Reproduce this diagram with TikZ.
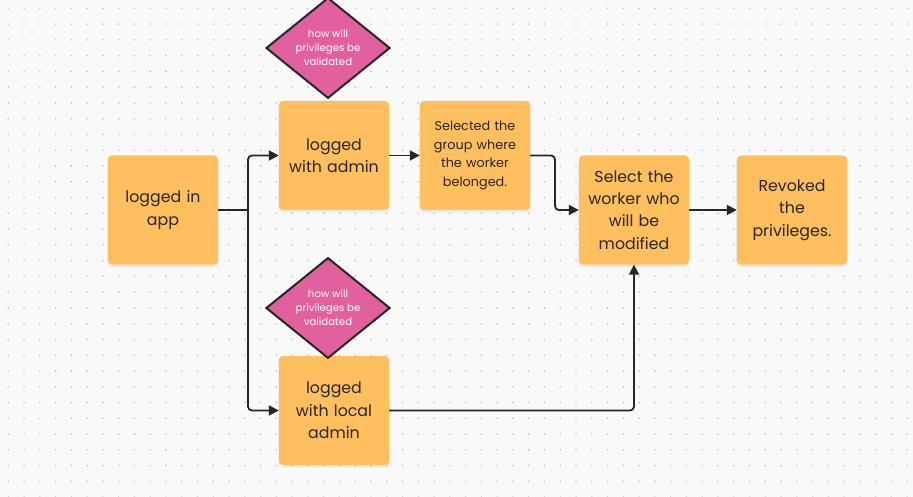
\documentclass[tikz,border=0pt]{standalone}
\usepackage{fontspec}
\setmainfont{Poppins}
\usetikzlibrary{shapes.geometric,arrows.meta}
\definecolor{bg}{HTML}{F9F9F9}
\definecolor{dotc}{HTML}{BDBDBD}
\definecolor{boxc}{HTML}{FFBF5F}
\definecolor{pinkc}{HTML}{E3609F}
\definecolor{linec}{HTML}{262626}
\tikzset{
  stepbox/.style={rectangle, rounded corners=4pt, fill=boxc, minimum width=110pt, minimum height=109pt, text width=104pt, align=center, inner sep=0pt, font=\fontsize{15.8}{22.3}\selectfont, text=black!85},
  smallbox/.style={stepbox, font=\fontsize{12.8}{18.6}\selectfont},
  shadowbox/.style={rectangle, rounded corners=5pt, fill=black, opacity=0.06, minimum width=112pt, minimum height=111pt},
  question/.style={diamond, draw=linec, line width=2pt, fill=pinkc, minimum width=124pt, minimum height=93pt, inner sep=0pt, align=center, text=white, font=\fontsize{10.2}{14}\selectfont},
  conn/.style={draw=linec, line width=1.8pt, rounded corners=4pt, -{Triangle[length=10pt,width=10pt]}},
  plain/.style={draw=linec, line width=1.8pt, rounded corners=4pt}
}
\begin{document}
\begin{tikzpicture}[x=1pt,y=-1pt]
\fill[bg] (0,0) rectangle (913,497);
\useasboundingbox (0,0) rectangle (913,497);
\foreach \i in {0,...,58}{
  \foreach \j in {0,...,31}{
    \fill[dotc] (8.3+\i*15.77, 8.3+\j*15.77) circle (0.9pt);
  }
}
% shadows
\foreach \x/\y in {163/211.5, 334/157, 475/157, 634/211.5, 792/211.5, 334/412}{
  \node[shadowbox] at (\x,\y) {};
}
\node[stepbox] (app) at (163,210) {logged in\\app};
\node[stepbox] (admin) at (334,155.5) {logged\\with admin};
\node[smallbox] (group) at (475,155.5) {Selected the\\group where\\the worker\\belonged.};
\node[stepbox] (select) at (634,210) {Select the\\worker who\\will be\\modified};
\node[stepbox] (revoke) at (792,210) {Revoked\\the\\privileges.};
\node[stepbox] (local) at (334,410.5) {logged\\with local\\admin};
\node[question] (q1) at (328,48) {how will\\privileges be\\validated};
\node[question] (q2) at (328,308) {how will\\privileges be\\validated};

\coordinate (split) at (248,210);
\coordinate (j2) at (555,155.5);
\draw[plain] (app.east) -- (split);
\draw[conn] (split) |- (admin.west);
\draw[conn] (split) |- (local.west);
\draw[conn] (admin.east) -- (group.west);
\draw[conn] (group.east) -- (j2) |- (select.west);
\draw[conn] (select.east) -- (revoke.west);
\draw[conn] (local.east) -| (select.south);
\end{tikzpicture}
\end{document}
